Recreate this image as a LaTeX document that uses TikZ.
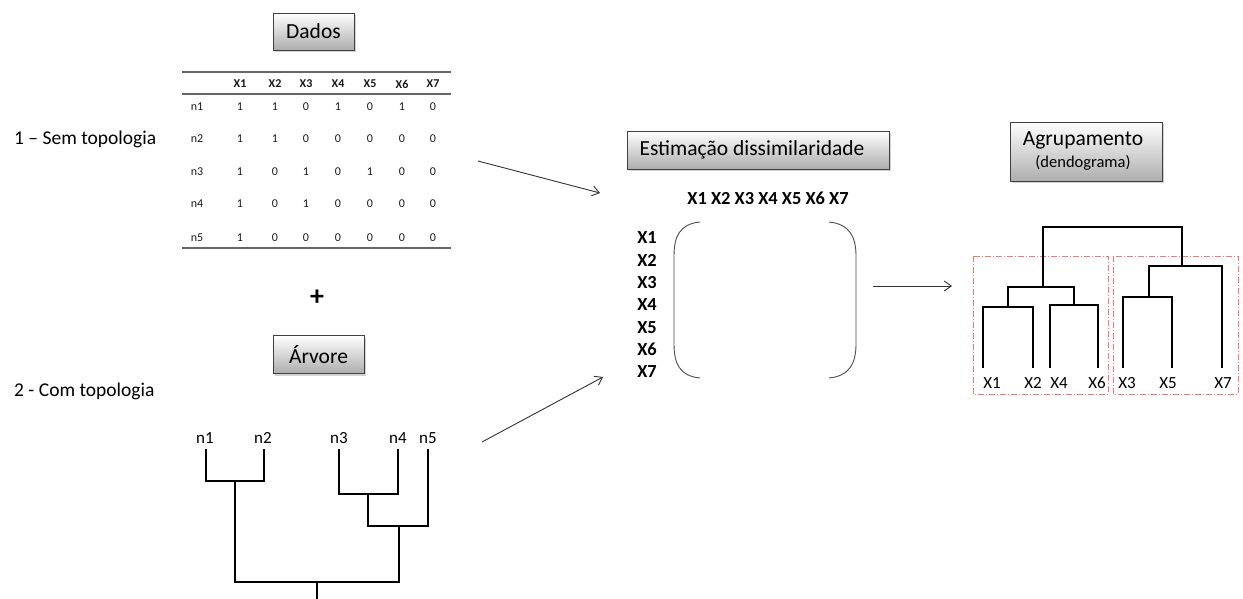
\documentclass[tikz,border=0pt]{standalone}
\usepackage{fontspec}
\setmainfont{Carlito}
\usetikzlibrary{shadows,arrows.meta}
\tikzset{
  titlebox/.style={draw=black!75, line width=0.8pt, top color=white, bottom color=black!32,
    drop shadow={shadow xshift=2pt, shadow yshift=-2pt, opacity=0.35}, inner sep=0pt,
    font=\fontsize{21.5}{23}\selectfont},
  tab/.style={font=\fontsize{12}{13}\selectfont, text=black!90, inner sep=0pt},
  tabh/.style={tab, font=\fontsize{12}{13}\selectfont\bfseries},
  rule/.style={draw=black!60, line width=1.8pt},
  tree/.style={line width=1.8pt, line cap=rect},
  lab/.style={font=\fontsize{19.5}{21}\selectfont, inner sep=0pt, anchor=west},
  mlab/.style={font=\fontsize{18.4}{20}\selectfont\bfseries, inner sep=0pt},
  dlab/.style={font=\fontsize{17}{19}\selectfont, inner sep=0pt},
  arr/.style={-{Straight Barb[length=7pt,width=10pt]}, line width=0.9pt, draw=black!80},
  grp/.style={draw=red!55!white, line width=0.8pt, dash pattern=on 6pt off 2pt on 1pt off 2pt},
  brk/.style={draw=black!70, line width=0.9pt}
}
\begin{document}
\begin{tikzpicture}[x=1pt,y=-1pt]
\useasboundingbox (0,0) rectangle (1243,598);
\fill[white] (0,0) rectangle (1243,598);

% title boxes
\node[titlebox, minimum width=81pt, minimum height=37pt] (dados) at (313.5,31.5) {Dados};
\node[titlebox, minimum width=91pt, minimum height=38pt] (arvore) at (318.5,354.5) {Árvore};
\node[titlebox, minimum width=262pt, minimum height=38pt] (estim) at (758,150) {};
\node[font=\fontsize{21.5}{23}\selectfont, inner sep=0pt] (estt) at (752,150) {Estimação dissimilaridade};
\node[titlebox, minimum width=152pt, minimum height=59pt] (agrup) at (1086,151.5) {};
\node[font=\fontsize{21.5}{23}\selectfont, inner sep=0pt] (agt) at (1083,140) {Agrupamento};
\node[font=\fontsize{16.5}{18}\selectfont, inner sep=0pt] (ags) at (1083,163) {(dendograma)};

% left labels
\node[lab] (sem) at (14,139) {1 -- Sem topologia};
\node[lab] (com) at (14,391) {2 - Com topologia};
\node[font=\fontsize{28}{30}\selectfont, inner sep=0pt] (plus) at (317,298) {\textbf{+}};

% table
\draw[rule] (182,72) -- (451,72);
\draw[rule] (182,94) -- (451,94);
\draw[rule] (182,248) -- (451,248);
\foreach \c/\x in {1/240,2/275,3/306,4/338,5/370,6/402,7/433}
  \node[tabh] (h\c) at (\x,84) {X\c};
\foreach \r/\y in {1/107,2/139,3/172,4/204,5/238}
  \node[tab] (n\r) at (197,\y) {n\r};
\foreach \r/\y/\vals in {1/107/{1,1,0,1,0,1,0},2/139/{1,1,0,0,0,0,0},3/172/{1,0,1,0,1,0,0},4/204/{1,0,1,0,0,0,0},5/238/{1,0,0,0,0,0,0}}{
  \foreach \v [count=\c] in \vals {
    \pgfmathsetmacro{\xx}{{240,275,306,338,370,402,433}[\c-1]}
    \node[tab] (v\r-\c) at (\xx,\y) {\v};
  }
}

% tree (Árvore)
\node[dlab] (t1) at (205,438) {n1};
\node[dlab] (t2) at (263,438) {n2};
\node[dlab] (t3) at (339,438) {n3};
\node[dlab] (t4) at (398,438) {n4};
\node[dlab] (t5) at (428,438) {n5};
\draw[tree] (206,450) -- (206,481) -- (264,481) -- (264,450);
\draw[tree] (339,450) -- (339,494) -- (398,494) -- (398,450);
\draw[tree] (368,494) -- (368,526) -- (428,526) -- (428,450);
\draw[tree] (235,481) -- (235,582) -- (399,582) -- (399,526);
\draw[tree] (317,582) -- (317,600);

% dissimilarity matrix
\node[mlab] (mh) at (768,198) {X1 X2 X3 X4 X5 X6 X7};
\foreach \i in {1,...,7}
  \node[mlab] (m\i) at (647,{238+22.3*(\i-1)}) {X\i};
\draw[brk] (700,222) .. controls (680,224) and (674,236) .. (674,256) -- (674,344)
  .. controls (674,364) and (680,376) .. (700,378);
\draw[brk] (829,222) .. controls (849,224) and (856,236) .. (856,256) -- (856,344)
  .. controls (856,364) and (849,376) .. (829,378);
\coordinate (mL1) at (600,193);
\coordinate (mL2) at (603,377);
\coordinate (mR) at (873,286);

% arrows
\coordinate (a1) at (478,161);
\coordinate (a2) at (482,442);
\coordinate (a3) at (952,286);
\draw[arr] (a1) -- (mL1);
\draw[arr] (a2) -- (mL2);
\draw[arr] (mR) -- (a3);

% dendrogram
\draw[grp] (973,256) rectangle (1108,394);
\draw[grp] (1113,256) rectangle (1238,394);
\draw[tree] (1043,287) -- (1043,227) -- (1182,227) -- (1182,266);
\draw[tree] (1008,307) -- (1008,287) -- (1074,287) -- (1074,305);
\draw[tree] (983,367) -- (983,307) -- (1033,307) -- (1033,367);
\draw[tree] (1050,367) -- (1050,305) -- (1098,305) -- (1098,367);
\draw[tree] (1149,297) -- (1149,266) -- (1222,266) -- (1222,367);
\draw[tree] (1123,367) -- (1123,297) -- (1172,297) -- (1172,367);
\node[dlab] (d1) at (992,383) {X1};
\node[dlab] (d2) at (1033,383) {X2};
\node[dlab] (d4) at (1059,383) {X4};
\node[dlab] (d6) at (1097,383) {X6};
\node[dlab] (d3) at (1127,383) {X3};
\node[dlab] (d5) at (1168,383) {X5};
\node[dlab] (d7) at (1223,383) {X7};
\end{tikzpicture}
\end{document}
